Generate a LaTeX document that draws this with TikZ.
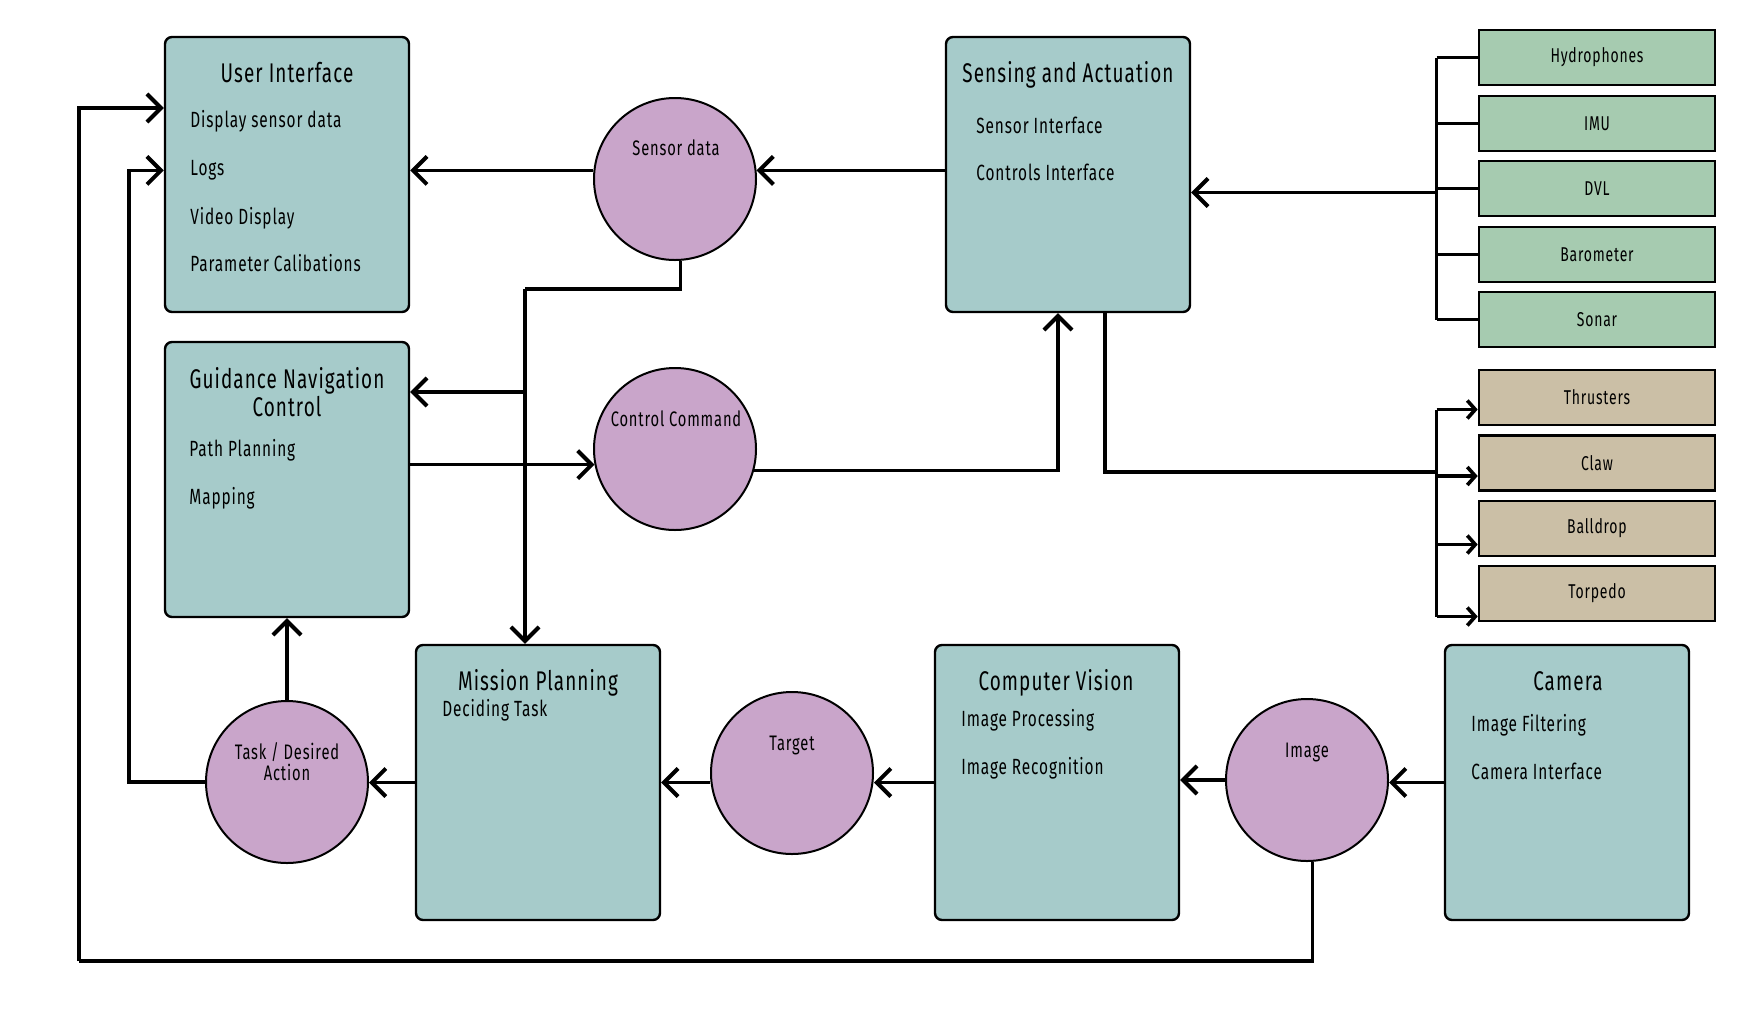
\documentclass[tikz,border=0pt]{standalone}
\usepackage{fontspec}
\setmainfont{Fira Sans}[FakeStretch=0.7,LetterSpace=4.0]
\usetikzlibrary{arrows.meta,calc}
\definecolor{boxc}{RGB}{166,203,202}
\definecolor{circc}{RGB}{201,165,202}
\definecolor{sensc}{RGB}{166,203,176}
\definecolor{actc}{RGB}{203,191,166}
\begin{document}
\begin{tikzpicture}[x=0.5pt,y=-0.5pt,
  blk/.style={draw=black, line width=1.2pt, rounded corners=3.5pt, fill=boxc, minimum width=122pt, minimum height=137.5pt, inner sep=0pt},
  circ/.style={circle, draw=black, line width=1pt, fill=circc, minimum size=81pt, inner sep=0pt},
  sens/.style={rectangle, draw=black, line width=1.3pt, fill=sensc, minimum width=118pt, minimum height=27.5pt, inner sep=0pt, font=\fontsize{10}{12}\selectfont},
  act/.style={sens, fill=actc},
  ttl/.style={font=\fontsize{13.5}{14}\selectfont, inner sep=0pt, anchor=base},
  itm/.style={font=\fontsize{11}{13}\selectfont, anchor=base west, inner sep=0pt},
  clbl/.style={font=\fontsize{10.5}{10.5}\selectfont, inner sep=0pt, anchor=base, align=center},
  conn/.style={line width=1.7pt},
  arr/.style={conn, -{Straight Barb[length=7pt,width=14pt,line width=2pt]}},
  sarr/.style={conn, -{Straight Barb[length=4pt,width=9pt,line width=1.8pt]}}
]
\useasboundingbox (0,0) rectangle (1762,1019);

% boxes
\node[blk] (ui) at (287,174.5) {};
\node[blk] (gnc) at (287,479.5) {};
\node[blk] (sa) at (1068,174.5) {};
\node[blk] (mp) at (538,782.5) {};
\node[blk] (cv) at (1057,782.5) {};
\node[blk] (cam) at (1567,782.5) {};

% circles
\node[circ] (sd) at (675,179) {};
\node[circ] (cc) at (675,449) {};
\node[circ] (task) at (287,782) {};
\node[circ] (tgt) at (792,773) {};
\node[circ] (img) at (1307,780) {};

% sensors
\node[sens] (hyd) at (1597,57.5) {Hydrophones};
\node[sens] (imu) at (1597,123.5) {IMU};
\node[sens] (dvl) at (1597,188.5) {DVL};
\node[sens] (baro) at (1597,254.5) {Barometer};
\node[sens] (sonar) at (1597,319.5) {Sonar};

% actuators
\node[act] (thr) at (1597,397.5) {Thrusters};
\node[act] (claw) at (1597,463) {Claw};
\node[act] (ball) at (1597,528.5) {Balldrop};
\node[act] (torp) at (1597,593.5) {Torpedo};

% box texts
\node[ttl] (uiT) at (287,82) {User Interface};
\node[itm] (ui1) at (190,127) {Display sensor data};
\node[itm] (ui2) at (190,175) {Logs};
\node[itm] (ui3) at (190,224) {Video Display};
\node[itm] (ui4) at (190,271) {Parameter Calibations};

\node[ttl, anchor=center, align=center] (gncT) at (287,392) {Guidance Navigation\\Control};
\node[itm] (gnc1) at (189,456) {Path Planning};
\node[itm] (gnc2) at (189,504) {Mapping};

\node[ttl] (saT) at (1068,82) {Sensing and Actuation};
\node[itm] (sa1) at (976,133) {Sensor Interface};
\node[itm] (sa2) at (976,180) {Controls Interface};

\node[ttl] (mpT) at (538,690) {Mission Planning};
\node[itm] (mp1) at (442,716) {Deciding Task};

\node[ttl] (cvT) at (1056,690) {Computer Vision};
\node[itm] (cv1) at (961,726) {Image Processing};
\node[itm] (cv2) at (961,774) {Image Recognition};

\node[ttl] (camT) at (1568,690) {Camera};
\node[itm] (cam1) at (1471,731) {Image Filtering};
\node[itm] (cam2) at (1471,779) {Camera Interface};

% circle labels
\node[clbl] (sdL) at (676,155) {Sensor data};
\node[clbl] (ccL) at (676,426) {Control Command};
\node[clbl, anchor=center] (taskL) at (287,762) {Task / Desired\\Action};
\node[clbl] (tgtL) at (792,750) {Target};
\node[clbl] (imgL) at (1307,757) {Image};

% junction coordinates
\coordinate (j1) at (525,289);
\coordinate (j2) at (525,392);
\coordinate (saIn) at ($(sa.south)+(-10,0)$);
\coordinate (saOut) at ($(sa.south)+(37,0)$);
\coordinate (abus) at (1438,472);
\coordinate (bl) at (79,961);

% connectors: top
\draw[arr] (sd.174) -- (sd.174 -| ui.east);
\draw[arr] (sa.west |- sd.6) -- (sd.6);
\draw[conn] (sd.-86) |- (j1);
\draw[arr] (j1) -- (j1 |- mp.north);
\draw[arr] (j2) -- (j2 -| gnc.east);
\draw[arr] (gnc.east |- cc.191) -- (cc.191);
\draw[arr] (cc.-15) -| (saIn);

% sensors bus
\foreach \n in {hyd,imu,dvl,baro,sonar}
  \draw[conn] ($(\n.west)+(-41,0)$) -- (\n.west);
\draw[conn] ($(hyd.west)+(-41,0)$) -- ($(sonar.west)+(-41,0)$);
\draw[arr] ($(dvl.west)+(-41,4)$) -- ($(dvl.west -| sa.east)+(0,4)$);

% actuators bus
\draw[conn] (saOut) |- (abus);
\foreach \n/\d in {thr/12,claw/13,ball/16,torp/23}
  \draw[sarr] ($(\n.west)+(-41,\d)$) -- ($(\n.west)+(0,\d)$);
\draw[conn] ($(thr.west)+(-41,12)$) -- ($(torp.west)+(-41,23)$);

% bottom row
\draw[arr] (cam.west) -- (cam.west -| img.east);
\draw[arr] (img.west) -- (img.west -| cv.east);
\draw[arr] (cv.west) -- (cv.west -| tgt.east);
\draw[arr] (tgt.west |- mp.east) -- (mp.east);
\draw[arr] (mp.west) -- (mp.west -| task.east);
\draw[arr] (task.north) -- (gnc.south);
\draw[arr] (task.west) -- ++(-76,0) |- (ui.west |- sd.174);
\draw[conn] (img.-86) |- (bl);
\draw[arr] (bl) |- ($(ui.west)+(0,-66.5)$);
\end{tikzpicture}
\end{document}
